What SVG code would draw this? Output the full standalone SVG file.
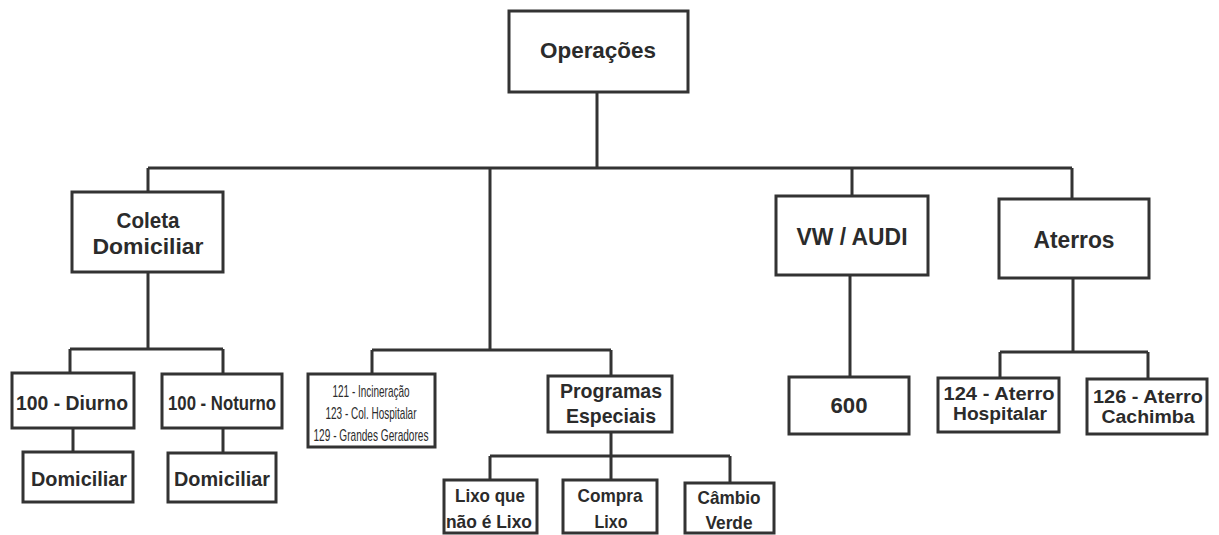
<svg xmlns="http://www.w3.org/2000/svg" width="1219" height="535" viewBox="0 0 1219 535">
<style>
.box{fill:#fff;stroke:#333;stroke-width:3}
.ln{fill:none;stroke:#333;stroke-width:3}
.t{font-family:"Liberation Sans",Arial,sans-serif;font-weight:bold;fill:#2b2b2b;text-anchor:middle}
.n{font-family:"Liberation Sans",Arial,sans-serif;font-weight:normal;fill:#2b2b2b;text-anchor:middle}
</style>
<rect width="1219" height="535" fill="#fff"/>
<g id="connectors">
<path class="ln" d="M597,92V168M148,168H1072M148,168V192M490,168V350M852,168V195M1072,168V198"/>
<path class="ln" d="M148,272V349M70,349H223M70,349V373M223,349V374M73,428V452M223,428V453"/>
<path class="ln" d="M372,350H611M372,350V374M611,350V376M611,432V456M490,456H730M490,456V480M611,456V480M730,456V483"/>
<path class="ln" d="M850,275V377"/>
<path class="ln" d="M1073,278V352M1000,352H1148M1000,352V378M1148,352V379"/>
</g>
<g id="operacoes"><rect class="box" x="509" y="11" width="179" height="81"/><text class="t" x="598" y="58" font-size="22" textLength="116" lengthAdjust="spacingAndGlyphs">Operações</text></g>
<g id="coleta"><rect class="box" x="72" y="192" width="151" height="80"/><text class="t" x="148" y="228" font-size="22" textLength="63" lengthAdjust="spacingAndGlyphs">Coleta</text><text class="t" x="148" y="254" font-size="22" textLength="111" lengthAdjust="spacingAndGlyphs">Domiciliar</text></g>
<g id="vwaudi"><rect class="box" x="776" y="196" width="152" height="79"/><text class="t" x="852" y="245" font-size="23" textLength="111" lengthAdjust="spacingAndGlyphs">VW / AUDI</text></g>
<g id="aterros"><rect class="box" x="999" y="199" width="150" height="79"/><text class="t" x="1074" y="248" font-size="23" textLength="81" lengthAdjust="spacingAndGlyphs">Aterros</text></g>
<g id="diurno"><rect class="box" x="12" y="373" width="122" height="55"/><text class="t" x="72" y="410" font-size="20" textLength="112" lengthAdjust="spacingAndGlyphs">100 - Diurno</text></g>
<g id="noturno"><rect class="box" x="162" y="374" width="120" height="54"/><text class="t" x="222" y="410" font-size="20" textLength="108" lengthAdjust="spacingAndGlyphs">100 - Noturno</text></g>
<g id="domiciliar1"><rect class="box" x="23" y="452" width="110" height="50"/><text class="t" x="79" y="486" font-size="21" textLength="96" lengthAdjust="spacingAndGlyphs">Domiciliar</text></g>
<g id="domiciliar2"><rect class="box" x="168" y="453" width="108" height="49"/><text class="t" x="222" y="486" font-size="21" textLength="96" lengthAdjust="spacingAndGlyphs">Domiciliar</text></g>
<g id="codigos"><rect class="box" x="308" y="374" width="127" height="73"/>
<text class="n" x="371" y="397" font-size="17" textLength="77" lengthAdjust="spacingAndGlyphs">121 - Incineração</text>
<text class="n" x="371" y="419" font-size="17" textLength="91" lengthAdjust="spacingAndGlyphs">123 - Col. Hospitalar</text>
<text class="n" x="371" y="441" font-size="17" textLength="115" lengthAdjust="spacingAndGlyphs">129 - Grandes Geradores</text></g>
<g id="programas"><rect class="box" x="548" y="376" width="124" height="56"/><text class="t" x="611" y="398" font-size="21" textLength="102" lengthAdjust="spacingAndGlyphs">Programas</text><text class="t" x="611" y="423" font-size="21" textLength="90" lengthAdjust="spacingAndGlyphs">Especiais</text></g>
<g id="lixo"><rect class="box" x="444" y="480" width="93" height="53"/><text class="t" x="490" y="502" font-size="19" textLength="70" lengthAdjust="spacingAndGlyphs">Lixo que</text><text class="t" x="489" y="528" font-size="19" textLength="86" lengthAdjust="spacingAndGlyphs">não é Lixo</text></g>
<g id="compra"><rect class="box" x="563" y="480" width="94" height="53"/><text class="t" x="610" y="502" font-size="19" textLength="65" lengthAdjust="spacingAndGlyphs">Compra</text><text class="t" x="611" y="528" font-size="19" textLength="33" lengthAdjust="spacingAndGlyphs">Lixo</text></g>
<g id="cambio"><rect class="box" x="685" y="483" width="89" height="50"/><text class="t" x="729" y="504" font-size="19" textLength="63" lengthAdjust="spacingAndGlyphs">Câmbio</text><text class="t" x="729" y="529" font-size="19" textLength="47" lengthAdjust="spacingAndGlyphs">Verde</text></g>
<g id="n600"><rect class="box" x="789" y="377" width="120" height="57"/><text class="t" x="849" y="413" font-size="22" textLength="37" lengthAdjust="spacingAndGlyphs">600</text></g>
<g id="aterro124"><rect class="box" x="938" y="378" width="121" height="54"/><text class="t" x="999" y="400" font-size="18" textLength="111" lengthAdjust="spacingAndGlyphs">124 - Aterro</text><text class="t" x="1000" y="420" font-size="18" textLength="94" lengthAdjust="spacingAndGlyphs">Hospitalar</text></g>
<g id="aterro126"><rect class="box" x="1087" y="379" width="120" height="55"/><text class="t" x="1148" y="403" font-size="18" textLength="110" lengthAdjust="spacingAndGlyphs">126 - Aterro</text><text class="t" x="1148" y="423" font-size="18" textLength="93" lengthAdjust="spacingAndGlyphs">Cachimba</text></g>
</svg>
